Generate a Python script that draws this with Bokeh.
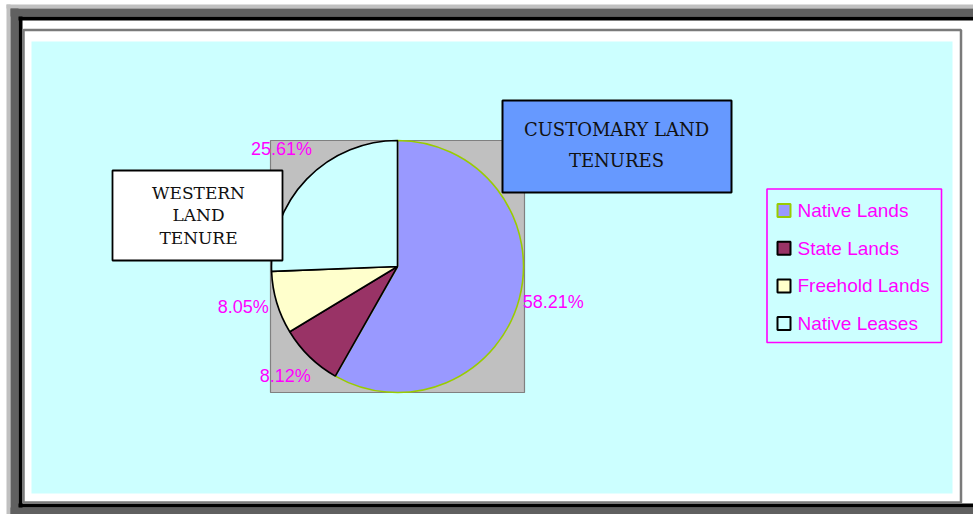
import math
from bokeh.plotting import figure
from bokeh.models import Range1d
from bokeh.embed import file_html
from bokeh.resources import INLINE
from bokeh.core.properties import value

# ---- data ----
categories = ["Native Lands", "State Lands", "Freehold Lands", "Native Leases"]
shares = [58.21, 8.12, 8.05, 25.61]
share_labels = ["58.21%", "8.12%", "8.05%", "25.61%"]
colors = ["#9999FF", "#993366", "#FFFFCC", "#CCFFFF"]
edge_colors = ["#99CC00", "#000000", "#000000", "#000000"]
box_western = ["WESTERN", "LAND", "TENURE"]
box_customary = ["CUSTOMARY LAND", "TENURES"]

# ---- canvas in page pixel coordinates (1:1) ----
W, H = 973, 514
p = figure(width=W, height=H, x_range=Range1d(0, W), y_range=Range1d(0, H),
           output_backend="svg", toolbar_location=None, x_axis_type=None, y_axis_type=None,
           min_border=0, outline_line_color=None, background_fill_color="white",
           border_fill_color="white")
p.xgrid.grid_line_color = None
p.ygrid.grid_line_color = None


def Y(py):
    return 514 - py


def rect(x0, y0, x1, y1, fill=None, line=None, lw=1.0):
    p.quad(left=x0, right=x1, top=Y(y0), bottom=Y(y1),
           fill_color=fill, fill_alpha=1 if fill else 0,
           line_color=line, line_alpha=1 if line else 0, line_width=lw)


# outer document frame
rect(6, 4, 973, 8, fill="#C0C0C0")
rect(6, 4, 10, 514, fill="#C0C0C0")
rect(10, 8, 973, 16, fill="#606060")
rect(10, 8, 18, 514, fill="#606060")
rect(10, 507, 973, 514, fill="#606060")
rect(18, 16, 973, 20, fill="#000000")
rect(18, 16, 22, 507, fill="#000000")
rect(18, 503, 973, 507, fill="#000000")
# chart object border and chart area
rect(23, 29.5, 960.5, 502, line="#7A7A7A", lw=2.5)
rect(31, 41, 952, 493, fill="#CCFFFF")

# plot area
rect(270, 140, 524, 392, fill="#C0C0C0", line="#808080", lw=1.2)

# pie
cx, cy, r = 397, Y(266), 126
total = sum(shares)
cum = [0.0]
for s in shares:
    cum.append(cum[-1] + s)
starts = [math.pi / 2 - 2 * math.pi * cum[i + 1] / total for i in range(len(shares))]
ends = [math.pi / 2 - 2 * math.pi * cum[i] / total for i in range(len(shares))]
for i in range(len(shares)):
    p.wedge(x=cx, y=cy, radius=r, start_angle=starts[i], end_angle=ends[i],
            direction="anticlock", fill_color=colors[i], line_color=edge_colors[i],
            line_width=1.6)

# percentage labels around the pie
mids = [(a + b) / 2 for a, b in zip(starts, ends)]
lr = 161
lx = [cx + lr * math.cos(m) for m in mids]
ly = [cy + lr * math.sin(m) for m in mids]
p.text(x=lx, y=ly, text=share_labels, text_align="center", text_baseline="middle",
       y_offset=-6, text_color="#FF00FF", text_font=value("Liberation Sans"),
       text_font_size="18px")

# text boxes
rect(112, 170, 282, 260, fill="white", line="black", lw=1.8)
p.text(x=[198] * len(box_western), y=[Y(192 + 22.5 * i) for i in range(len(box_western))],
       text=box_western, text_align="center", text_baseline="middle",
       text_color="#111111", text_font=value("DejaVu Serif"), text_font_size="17px")
rect(502, 100, 731, 192, fill="#6699FF", line="black", lw=2)
p.text(x=[616] * len(box_customary), y=[Y(129 + 31 * i) for i in range(len(box_customary))],
       text=box_customary, text_align="center", text_baseline="middle",
       text_color="#111111", text_font=value("DejaVu Serif"), text_font_size="18px")

# legend
rect(766.5, 188.5, 941, 342, line="#FF00FF", lw=1.6)
ly_leg = [Y(210 + 37.7 * i) for i in range(len(categories))]
p.scatter(x=[783.5] * len(categories), y=ly_leg, marker="square", size=13,
          fill_color=colors, line_color=edge_colors, line_width=2)
p.text(x=[797] * len(categories), y=ly_leg, text=categories, text_align="left",
       text_baseline="middle", text_color="#FF00FF", text_font=value("Liberation Sans"),
       text_font_size="19px")

open("out.html", "w").write(file_html(p, INLINE))
